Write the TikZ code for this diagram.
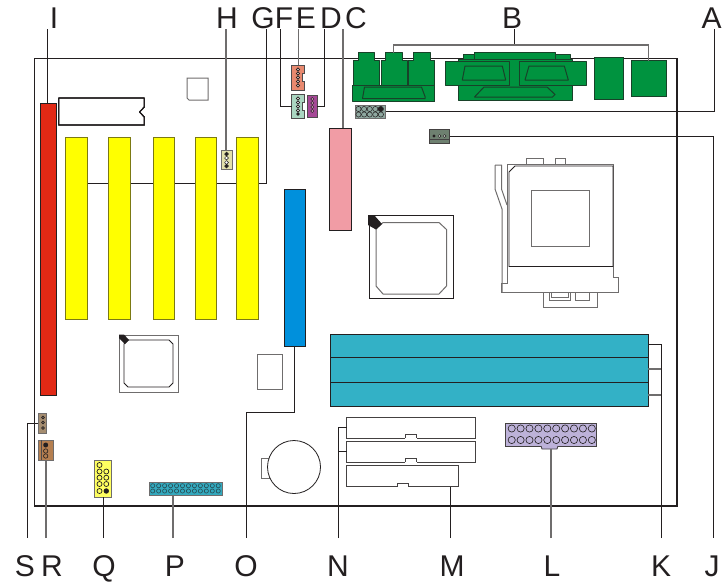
\documentclass[tikz,border=0pt]{standalone}
\usepackage{fontspec}
\setmainfont{Liberation Sans}
\definecolor{ink}{HTML}{231F20}
\definecolor{halo}{HTML}{6F6D6D}
\definecolor{grn}{HTML}{00933F}
\definecolor{dimm}{HTML}{33B1C6}
\definecolor{salmon}{HTML}{E8896F}
\definecolor{gjhead}{HTML}{6E8070}
\definecolor{slotyellow}{RGB}{255,255,0}
\tikzset{
  x=1pt,y=-1pt,
  lbl/.style={font=\fontsize{30}{30}\selectfont,text=ink,inner sep=0pt},
  lead/.style={draw=ink,line width=0.9pt},
  leadg/.style={draw=halo,line width=1.1pt},
  outline/.style={draw=ink,line width=0.9pt},
  soft/.style={draw=halo,line width=1pt},
  part/.style={draw=ink,line width=0.9pt,inner sep=0pt,outer sep=0pt},
  greenp/.style={draw=ink!70!grn,line width=1pt,fill=grn,line join=round},
  hole/.style={draw=ink,line width=0.6pt},
  bluehole/.style={draw=ink!70!dimm,line width=0.6pt},
}
% name, x1, y1, x2, y2, style
\newcommand{\comp}[6]{%
  \pgfmathsetmacro{\cw}{#4-#2}\pgfmathsetmacro{\ch}{#5-#3}%
  \pgfmathsetmacro{\cx}{(#2+#4)/2}\pgfmathsetmacro{\cy}{(#3+#5)/2}%
  \node[part,minimum width=\cw pt,minimum height=\ch pt,#6] (#1) at (\cx,\cy) {};}
\begin{document}
\begin{tikzpicture}
\useasboundingbox (0,0) rectangle (722,581);
\fill[white] (0,0) rectangle (722,581);
% board
\comp{board}{34.5}{58.5}{677}{506}{line width=1.3pt}
% labels (top)
\foreach \n/\t/\x in {lI/I/54,lH/H/227,lG/G/263,lF/F/284,lE/E/306,lD/D/331,lC/C/356,lB/B/512,lA/A/711.5}
  \node[lbl,anchor=base] (\n) at (\x,28) {\t};
% labels (bottom)
\foreach \n/\t/\x in {lS/S/25,lR/R/52,lQ/Q/104,lP/P/175,lO/O/246,lN/N/338,lM/M/452,lL/L/552,lK/K/661,lJ/J/712}
  \node[lbl,anchor=base] (\n) at (\x,576) {\t};
% free ends of connectors
\foreach \n/\x in {tI/47.5,tH/226,tG/266,tF/280,tE/298.5,tD/324,tC/343,tB/514.5,tA/714}
  \coordinate (\n) at (\x,29);
\foreach \n/\x in {bS/27,bR/46,bQ/103.5,bP/173,bO/246,bN/338,bM/450,bL/551,bK/661,bJ/713.5}
  \coordinate (\n) at (\x,538);
% G line behind the slots
\coordinate (gL) at (87,183);
\draw[lead] (tG) |- (gL);
% red slot
\comp{cI}{40}{103}{56}{395}{fill={rgb,255:red,225;green,41;blue,21}}
% yellow slots
\foreach \n/\a/\b in {y1/65.5/87,y2/108.5/130,y3/153/174,y4/195/216,y5/236/258}
  \comp{\n}{\a}{137.5}{\b}{319}{fill=slotyellow,draw=ink!60!slotyellow}
% ROM chip
\draw[outline,line join=round] (58.7,98) -- (144.3,98) -- (144.3,107) -- (139.5,112) -- (144.3,117) -- (144.3,125) -- (58.7,125) -- cycle;
% small square
\draw[soft] (187,78) -- (208,78) -- (208,100) -- (189,100) -- (187,98) -- cycle;
% H connector
\comp{cH}{221}{150}{232}{169.5}{fill={rgb,255:red,226;green,224;blue,170},draw=halo}
\foreach \y/\f in {154/ink,158/white,162.5/white,166/ink}
  \fill[\f,draw=ink,line width=0.5pt] (226.5,\y) circle (1.9);
% E, F, D connectors
\comp{cE}{291.7}{65}{304.5}{90}{fill=salmon,draw=ink!80}
\comp{cF}{291.7}{94}{304.5}{118}{fill={rgb,255:red,170;green,214;blue,193},draw=ink!80}
\comp{cD}{307.3}{95}{317.3}{117}{fill={rgb,255:red,165;green,72;blue,150},draw=ink!80}
\foreach \y in {69.5,73.5,77.5,81.5,85.5}
  \draw[hole,fill=white!70!salmon] (298,\y) circle (1.6);
\foreach \y in {98.5,102.5,106.5,110.5}
  \draw[hole,fill=white] (298,\y) circle (1.6);
\fill[ink] (298,114) circle (1.8);
\foreach \y in {99,103,107,111}
  \draw[hole,fill=magenta!30] (312.3,\y) circle (1.5);
\foreach \y/\z in {73/81,102/110}
  \draw[ink!80,line width=0.6pt,fill=white] (304.5,\y) -- (302,\y) -- (302,\z) -- (304.5,\z);
% pink slot
\comp{cC}{329.7}{128}{351.5}{230}{fill={rgb,255:red,241;green,156;blue,165}}
% blue slot
\comp{cO}{284}{189}{305}{346}{fill={rgb,255:red,0;green,144;blue,220}}
% small rectangle
\draw[soft] (257,354) rectangle (282.5,389);
% bottom-left chip
\draw[soft] (119,335) rectangle (178,392);
\draw[outline] (128,340) -- (169,340) -- (173,344) -- (173,383) -- (169,387) -- (128,387) -- (124,383) -- (124,344) -- cycle;
\fill[ink] (119,334.5) -- (124,334.5) -- (129,340) -- (125,344) -- (119,338) -- cycle;
% centre chip
\draw[outline] (369,215) rectangle (453,298);
\draw[soft] (383,222.5) -- (439,222.5) -- (446.5,229.5) -- (446.5,286) -- (439,294) -- (383,294) -- (376,286) -- (376,229) -- cycle;
\fill[ink] (368,215) -- (374,215) -- (382,224) -- (376,229.5) -- (368,225) -- cycle;
% CPU socket
\draw[soft] (507,164) -- (613,164) -- (613,277) -- (618.5,277) -- (618.5,292) -- (501,292) -- (501,283) -- (507,283) -- cycle;
\draw[outline] (515,166) -- (613,166) -- (613,266.5) -- (509,266.5) -- (509,172) -- cycle;
\draw[soft] (531,190.5) rectangle (589,246);
\draw[soft,line join=round] (495,165) -- (501.5,165) -- (501.5,189) -- (507,205);
\draw[soft] (495,165) -- (495,189) -- (502,209) -- (502,292);
\draw[soft] (526,158.5) rectangle (543,164);
\draw[soft] (555,158.5) rectangle (565,164);
\draw[soft] (543.7,292) rectangle (597,307);
\draw[soft] (549,292) rectangle (570,300);
\draw[soft] (551.5,292) rectangle (568,297);
\draw[soft] (575.5,292) rectangle (589,300);
% memory
\comp{dimmA}{330}{334}{648}{357}{fill=dimm}
\comp{dimmB}{330}{357}{648}{382}{fill=dimm}
\comp{dimmC}{330}{382}{648}{406}{fill=dimm}
% power connector
\comp{cL}{505.7}{423}{596.5}{446}{fill={rgb,255:red,189;green,178;blue,217},draw=ink!85}
\draw[ink!85,line width=0.9pt,fill={rgb,255:red,189;green,178;blue,217}] (541,446) -- (542,449) -- (557,449) -- (558,446);
\foreach \i in {0,...,9}{
  \pgfmathsetmacro{\hx}{511.7+\i*8.9}
  \draw[hole,fill={rgb,255:red,189;green,178;blue,217}] (\hx,428.5) circle (3.6);
  \draw[hole,fill={rgb,255:red,189;green,178;blue,217}] (\hx,440) circle (3.6);
}
% IDE and floppy headers
\comp{cN}{346.7}{417}{475}{438}{draw=ink!85}
\comp{cNb}{346.7}{441}{475}{462}{draw=ink!85}
\comp{cM}{346.7}{465.5}{458.5}{486.5}{draw=ink!85}
\foreach \a/\b/\y in {405/416.7/438,405/416.7/462,397/408.5/486.5}{
  \fill[white] (\a,\y-0.5) rectangle (\b,\y+0.7);
  \draw[ink!85,line width=0.9pt] (\a,\y) -- (\a,\y-3.5) -- (\b,\y-3.5) -- (\b,\y);
}
% battery
\draw[soft] (270,458) -- (261,458) -- (261,478) -- (270,478);
\node[part,circle,minimum size=53pt,fill=white,line width=0.8pt] (cBat) at (294,467) {};
% P header
\comp{cP}{149}{482}{222.5}{495}{fill={rgb,255:red,51;green,169;blue,190},draw=halo}
\foreach \i in {0,...,11}{
  \pgfmathsetmacro{\hx}{152.7+\i*5.96}
  \draw[bluehole] (\hx,485.7) circle (2.1);
  \draw[bluehole] (\hx,491) circle (2.1);
}
% Q header
\comp{cQ}{94.5}{460}{111.5}{497}{fill={rgb,255:red,255;green,255;blue,96},draw=halo}
\foreach \y in {465,471.5,477.7,484,491}
  \draw[hole,line width=0.7pt] (99.5,\y) circle (2.5);
\foreach \y in {471.5,477.7,484}
  \draw[hole,line width=0.7pt] (106.3,\y) circle (2.5);
\fill[ink] (106.3,491) circle (2.7);
% R header
\comp{cR}{38}{440}{53}{460}{fill={rgb,255:red,181;green,127;blue,80},draw=halo}
\draw[ink!80,line width=0.6pt] (41.5,440) -- (41.5,460);
\fill[ink] (45.7,445) circle (2.5);
\foreach \y in {451,456}
  \draw[hole] (45.7,\y) circle (2.2);
% S header
\comp{cS}{38}{413}{46}{433}{fill={rgb,255:red,165;green,141;blue,112},draw=halo}
\foreach \y in {417.5,422.5,428}
  \draw[hole] (43,\y) circle (1.4);
% green back-panel connectors
\foreach \a/\b/\c/\d in {353/358/374/379,381/385/402/407,408/413/430/434.7}
  \draw[greenp] (\a,101) -- (\a,60) -- (\b,60) -- (\b,52.5) -- (\c,52.5) -- (\c,60) -- (\d,60) -- (\d,101) -- cycle;
\draw[greenp] (352.7,85) rectangle (434.7,101);
\draw[greenp] (362.5,98.5) -- (364.5,87) -- (421.5,87) -- (425,96.5) -- (425,98.5) -- cycle;
\draw[greenp] (463,61) -- (463,54.5) -- (570,54.5) -- (570,61) -- cycle;
\draw[greenp] (474.7,60) -- (474.7,52) -- (555,52) -- (555,60) -- cycle;
\draw[greenp] (458,59.5) rectangle (572.5,100);
\draw[greenp] (445,61) rectangle (509,85);
\draw[greenp] (519,61) rectangle (586,85);
\draw[greenp] (462.3,80) -- (465,66) -- (502.3,66) -- (505.7,80) -- cycle;
\draw[greenp] (525,80) -- (529,66) -- (564.3,66) -- (568.3,80) -- cycle;
\draw[greenp] (474.5,97) -- (484,87) -- (547,87) -- (555,94.5) -- (552.5,97) -- cycle;
\comp{cB1}{594.5}{57}{623}{99}{fill=grn,draw=ink!70!grn}
\comp{cB}{631}{60.5}{666}{96.5}{fill=grn,draw=ink!70!grn}
\coordinate (cBl) at (393.5,52.5);
% A header
\comp{cA}{355}{105}{385.5}{118.7}{fill={rgb,255:red,143;green,168;blue,160},draw=halo}
\foreach \i in {0,...,4}{
  \pgfmathsetmacro{\hx}{358.5+\i*5.6}
  \draw[hole,line width=0.5pt] (\hx,109) circle (2.6);
  \draw[hole,line width=0.5pt] (\hx,114.5) circle (2.6);
}
\fill[ink] (380.5,109) circle (2.6);
% J header
\comp{cJ}{429.7}{129}{449.5}{143}{fill=gjhead,draw=ink!85}
\draw[ink!85,line width=0.6pt] (429.7,139.5) -- (449.5,139.5);
\fill[ink] (434,136) circle (1.6);
\foreach \x in {439.5,444.5}
  \draw[ink,line width=0.5pt,fill=white!70!gjhead] (\x,136) circle (1.4);
% connectors
\draw[lead] (tI) -- (tI |- cI.north);
\draw[leadg] (tH) -- (tH |- cH.north);
\draw[lead] (tF) |- (cF.west);
\draw[leadg] (tE) -- (tE |- cE.north);
\draw[lead] (tD) |- (cD.east);
\draw[leadg] (tC) -- (tC |- cC.north);
\draw[lead] (tB) -- (tB |- 0,45);
\draw[leadg] (cBl) |- (cB.north |- 0,45) -- (cB.north);
\draw[lead] (cA.east) -| (tA);
\draw[lead] (cJ.east) -| (bJ);
\draw[lead] (cS.west) -| (bS);
\draw[leadg] (bR) -- (bR |- cR.south);
\draw[lead] (bQ) -- (bQ |- cQ.south);
\draw[leadg] (bP) -- (bP |- cP.south);
\draw[lead] (cO.south) |- (bO |- 0,412) -- (bO);
\draw[lead] (bN) |- (cN.west);
\draw[lead] (bN |- cNb.west) -- (cNb.west);
\draw[lead] (bM) -- (bM |- cM.south);
\draw[leadg] (bL) -- (bL |- 0,449);
\draw[lead] (bK) |- (dimmA.east |- 0,344);
\draw[leadg] (bK |- 0,369) -- (dimmB.east |- 0,369);
\draw[leadg] (bK |- 0,395) -- (dimmC.east |- 0,395);
\end{tikzpicture}
\end{document}
